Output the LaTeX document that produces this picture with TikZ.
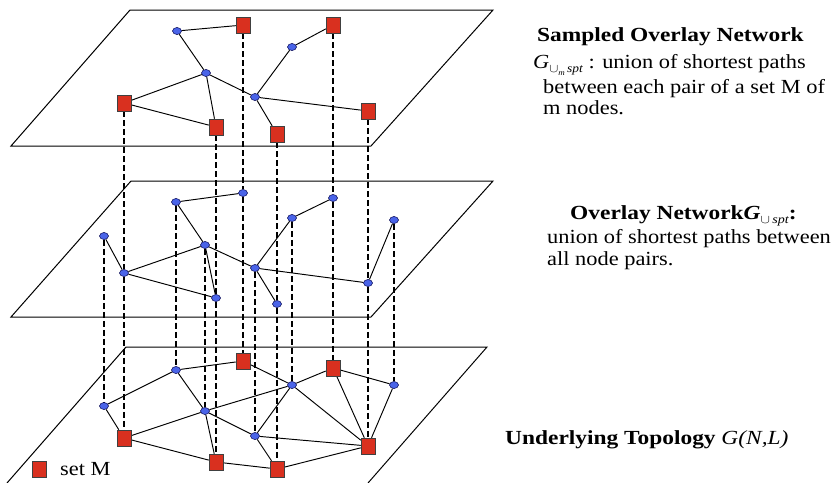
\documentclass[tikz,border=0pt]{standalone}
\usepackage{fontspec}
\setmainfont{Liberation Serif}
\usepackage{graphicx}
\usetikzlibrary{shapes.geometric}
\definecolor{mred}{HTML}{D9301F}
\definecolor{mblue}{HTML}{4A64E8}
\pgfdeclarelayer{bg}
\pgfsetlayers{bg,main}
\newcommand{\hs}[1]{\scalebox{1.12}[1]{#1}}
\newcommand{\hb}[1]{\scalebox{1.17}[1]{#1}}
\newcommand{\Gm}{\textit{G}\raisebox{-0.45ex}{\fontsize{12}{12}\selectfont$\cup$\raisebox{-0.6ex}{\fontsize{8}{8}\selectfont\textit{m}}\,\textit{spt}}}
\newcommand{\Gs}{\textbf{\textit{G}}\raisebox{-0.45ex}{\fontsize{12}{12}\selectfont$\cup$\,\textit{spt}}}
\begin{document}
\begin{tikzpicture}[x=1pt,y=-1pt,
  sq/.style={rectangle, minimum width=14pt, minimum height=16pt, inner sep=0pt, fill=mred, draw=black!75, line width=0.5pt},
  dot/.style={ellipse, minimum width=9pt, minimum height=7pt, inner sep=0pt, fill=mblue, draw=black!70!blue, line width=0.5pt},
  lk/.style={line width=0.95pt},
  vd/.style={line width=1.6pt, dash pattern=on 6pt off 3pt},
  plane/.style={line width=1pt},
  txt/.style={anchor=base west, inner sep=0pt, font=\fontsize{20}{23}\selectfont}
]
\useasboundingbox (0,0) rectangle (835,482);

% top layer
\node[dot] (ta) at (177,31) {};
\node[sq] (tr1) at (243,25) {};
\node[sq] (tr2) at (333,25) {};
\node[dot] (tb) at (292,47) {};
\node[dot] (tc) at (206,73) {};
\node[dot] (td) at (255,97) {};
\node[sq] (tr3) at (124,103) {};
\node[sq] (tr4) at (216,127) {};
\node[sq] (tr5) at (277,134) {};
\node[sq] (tr6) at (368,111) {};

% middle layer
\node[dot] (m1) at (104,236) {};
\node[dot] (m2) at (124,273) {};
\node[dot] (m3) at (176,202) {};
\node[dot] (m4) at (243,193) {};
\node[dot] (m5) at (205,245) {};
\node[dot] (m6) at (216,298) {};
\node[dot] (m7) at (255,268) {};
\node[dot] (m8) at (277,304) {};
\node[dot] (m9) at (292,218) {};
\node[dot] (m10) at (333,198) {};
\node[dot] (m11) at (368,283) {};
\node[dot] (m12) at (394,220) {};

% bottom layer
\node[dot] (b1) at (104,406) {};
\node[sq] (b2) at (124,438) {};
\node[dot] (b3) at (176,370) {};
\node[sq] (b4) at (243,361) {};
\node[dot] (b5) at (205,411) {};
\node[sq] (b6) at (216,462) {};
\node[dot] (b7) at (255,436) {};
\node[sq] (b8) at (277,469) {};
\node[dot] (b9) at (292,385) {};
\node[sq] (b10) at (333,368) {};
\node[sq] (b11) at (368,446) {};
\node[dot] (b12) at (394,385) {};

% legend
\node[sq] (leg) at (39,469) {};
\node[txt] (legt) at (60,475) {\hs{set M}};

% texts
\node[txt] (s1) at (537,41) {\hb{\textbf{Sampled Overlay Network}}};
\node[txt] (s2) at (533,68) {\hs{\Gm{} : union of shortest paths}};
\node[txt] (s3) at (543,93) {\hs{between each pair of a set M of}};
\node[txt] (s4) at (543,114) {\hs{m nodes.}};
\node[txt] (o1) at (570,219) {\hb{\textbf{Overlay Network}\Gs\textbf{:}}};
\node[txt] (o2) at (547,243) {\hs{union of shortest paths between}};
\node[txt] (o3) at (547,265) {\hs{all node pairs.}};
\node[txt] (u1) at (505,444) {\hb{\textbf{Underlying Topology} \textit{G(N,L)}}};

\begin{pgfonlayer}{bg}
  % planes
  \coordinate (p1a) at (130,10); \coordinate (p1b) at (493,10);
  \coordinate (p1c) at (371,146); \coordinate (p1d) at (11,146);
  \draw[plane] (p1a) -- (p1b) -- (p1c) -- (p1d) -- cycle;
  \coordinate (p2a) at (131,181); \coordinate (p2b) at (493,181);
  \coordinate (p2c) at (371,317); \coordinate (p2d) at (11,317);
  \draw[plane] (p2a) -- (p2b) -- (p2c) -- (p2d) -- cycle;
  \coordinate (p3a) at (126,347); \coordinate (p3b) at (487,347);
  \coordinate (p3c) at (368,483); \coordinate (p3d) at (7,483);
  \draw[plane] (p3d) -- (p3a) -- (p3b) -- (p3c);

  % vertical dashed links
  \foreach \t/\m in {tr3/m2, tr4/m6, tr1/m4, tr5/m8, tr2/m10, tr6/m11}
    \draw[vd] (\t) -- (\m);
  \foreach \i in {1,...,12}
    \draw[vd] (m\i) -- (b\i);

  % top edges
  \foreach \a/\b in {ta/tr1, ta/tc, tc/tr3, tc/tr4, tr3/tr4, tc/td, td/tb, tb/tr2, td/tr5, td/tr6}
    \draw[lk] (\a) -- (\b);
  % middle edges
  \foreach \a/\b in {m1/m2, m2/m5, m2/m6, m3/m4, m3/m5, m5/m6, m5/m7, m7/m9, m9/m10, m7/m8, m7/m11, m11/m12}
    \draw[lk] (\a) -- (\b);
  % bottom edges
  \foreach \a/\b in {b1/b3, b1/b2, b3/b4, b3/b5, b4/b9, b9/b10, b10/b12, b10/b11, b12/b11, b9/b11, b9/b7, b2/b5, b5/b9, b5/b7, b5/b6, b7/b11, b7/b8, b2/b6, b6/b8, b8/b11}
    \draw[lk] (\a) -- (\b);
\end{pgfonlayer}
\end{tikzpicture}
\end{document}
